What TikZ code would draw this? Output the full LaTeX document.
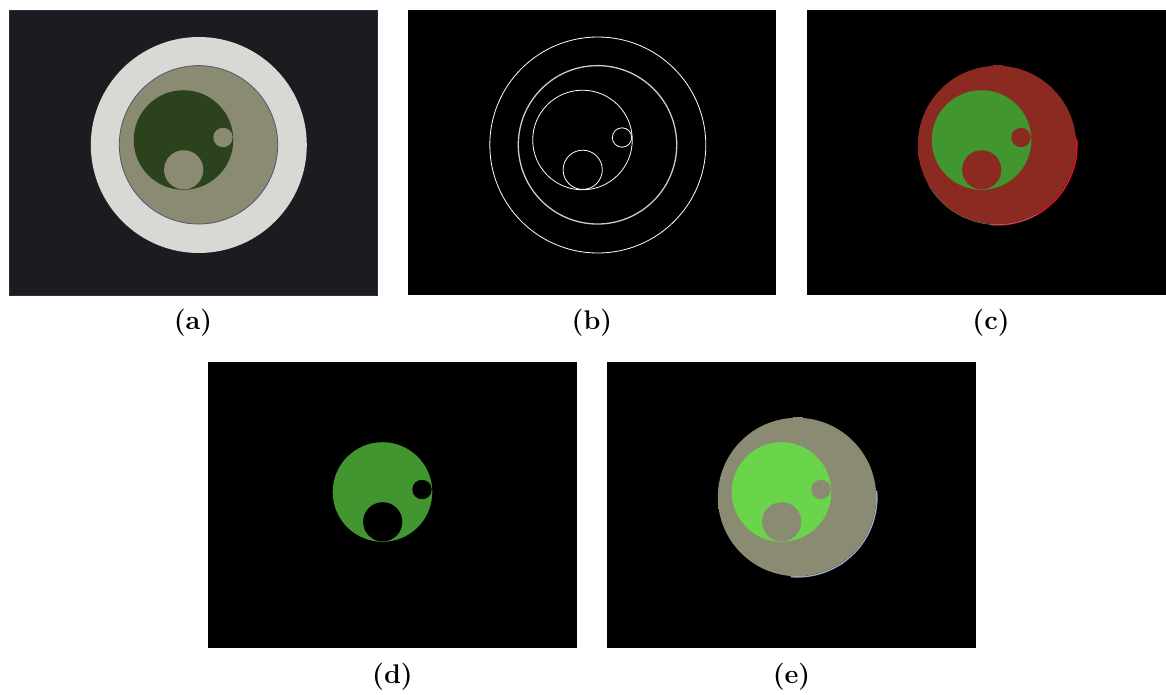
\documentclass[tikz,border=0pt]{standalone}
\definecolor{bgA}{HTML}{1A1C1F}
\definecolor{edgeA}{HTML}{22304A}
\definecolor{lightring}{HTML}{D8D9D4}
\definecolor{tanfill}{HTML}{8B8A73}
\definecolor{dkgreen}{HTML}{2C421C}
\definecolor{redfill}{HTML}{8A2A20}
\definecolor{greenfill}{HTML}{42962F}
\definecolor{brightgreen}{HTML}{6AD44A}
\definecolor{edgered}{HTML}{F01030}
\definecolor{edgegrey}{HTML}{7A8A70}
\definecolor{edgeblue}{HTML}{9AAAC8}
\tikzset{
  panelbox/.style={fill=black},
  labeltext/.style={font=\fontsize{27}{32}\selectfont\bfseries, inner sep=0pt},
  contour/.style={draw=white, line width=0.8pt},
}
\begin{document}
\begin{tikzpicture}[x=1pt,y=-1pt]
\useasboundingbox (0,0) rectangle (1166,694);
\fill[white] (0,0) rectangle (1166,694);
% ---------- panel (a)
\begin{scope}[shift={(9,10)}]
  \filldraw[fill=bgA, draw=edgeA, line width=0.8pt] (0,0) rectangle (368,285);
  \fill[lightring] (189.8,135) circle (108);
  \filldraw[fill=tanfill, draw=edgeA!80!white, line width=0.8pt] (189.5,134.8) circle (79.2);
  \fill[dkgreen] (174.5,130) circle (49.8);
  \fill[tanfill] (214,127.5) circle (9.7);
  \fill[tanfill] (174.7,159.8) circle (19.6);
\end{scope}
% ---------- panel (b)
\begin{scope}[shift={(408,10)}]
  \fill[panelbox] (0,0) rectangle (368,285);
  \draw[contour] (189.8,135) circle (108);
  \draw[contour, line width=1.3pt, draw=white!80!black] (189.5,134.8) circle (79.2);
  \draw[contour] (174.5,130) circle (49.8);
  \draw[contour] (214,127.5) circle (9.7);
  \draw[contour] (174.7,159.8) circle (19.6);
\end{scope}
% ---------- panel (c)
\begin{scope}[shift={(807,10)}]
  \fill[panelbox] (0,0) rectangle (359,285);
  \draw[edgered, line width=1.4pt] (190.5,135.5) ++(-5:79.4) arc (-5:95:79.4);
  \draw[edgegrey, line width=0.6pt] (190.3,135.3) ++(60:79.3) arc (60:150:79.3);
  \fill[redfill] (190,135) circle (79.2);
  \fill[redfill] (110.5,137) rectangle (114,147);
  \fill[redfill] (186,54.5) rectangle (196,58);
  \fill[redfill] (131,84) rectangle (136,88);
  \fill[greenfill] (174.5,130) circle (49.8);
  \fill[redfill] (214,127.5) circle (9.7);
  \fill[redfill] (174.7,159.8) circle (19.6);
\end{scope}
% ---------- panel (d)
\begin{scope}[shift={(208,362)}]
  \fill[panelbox] (0,0) rectangle (369,286);
  \fill[greenfill] (174.5,130) circle (49.8);
  \fill[black] (214,127.5) circle (9.7);
  \fill[black] (174.7,159.8) circle (19.6);
\end{scope}
% ---------- panel (e)
\begin{scope}[shift={(607,362)}]
  \fill[panelbox] (0,0) rectangle (369,286);
  \draw[edgeblue, line width=1.4pt] (190.5,135.5) ++(-5:79.4) arc (-5:95:79.4);
  \fill[tanfill] (190,135) circle (79.2);
  \fill[tanfill] (110.5,137) rectangle (114,147);
  \fill[tanfill] (186,54.5) rectangle (196,58);
  \fill[tanfill] (131,84) rectangle (136,88);
  \fill[brightgreen] (174.5,130) circle (49.8);
  \fill[tanfill] (214,127.5) circle (9.7);
  \fill[tanfill] (174.7,159.8) circle (19.6);
\end{scope}
% ---------- labels
\node[labeltext] (la) at (193,323) {(a)};
\node[labeltext] (lb) at (592,323) {(b)};
\node[labeltext] (lc) at (991,323) {(c)};
\node[labeltext] (ld) at (392.5,677) {(d)};
\node[labeltext] (le) at (791.5,677) {(e)};
\end{tikzpicture}
\end{document}
